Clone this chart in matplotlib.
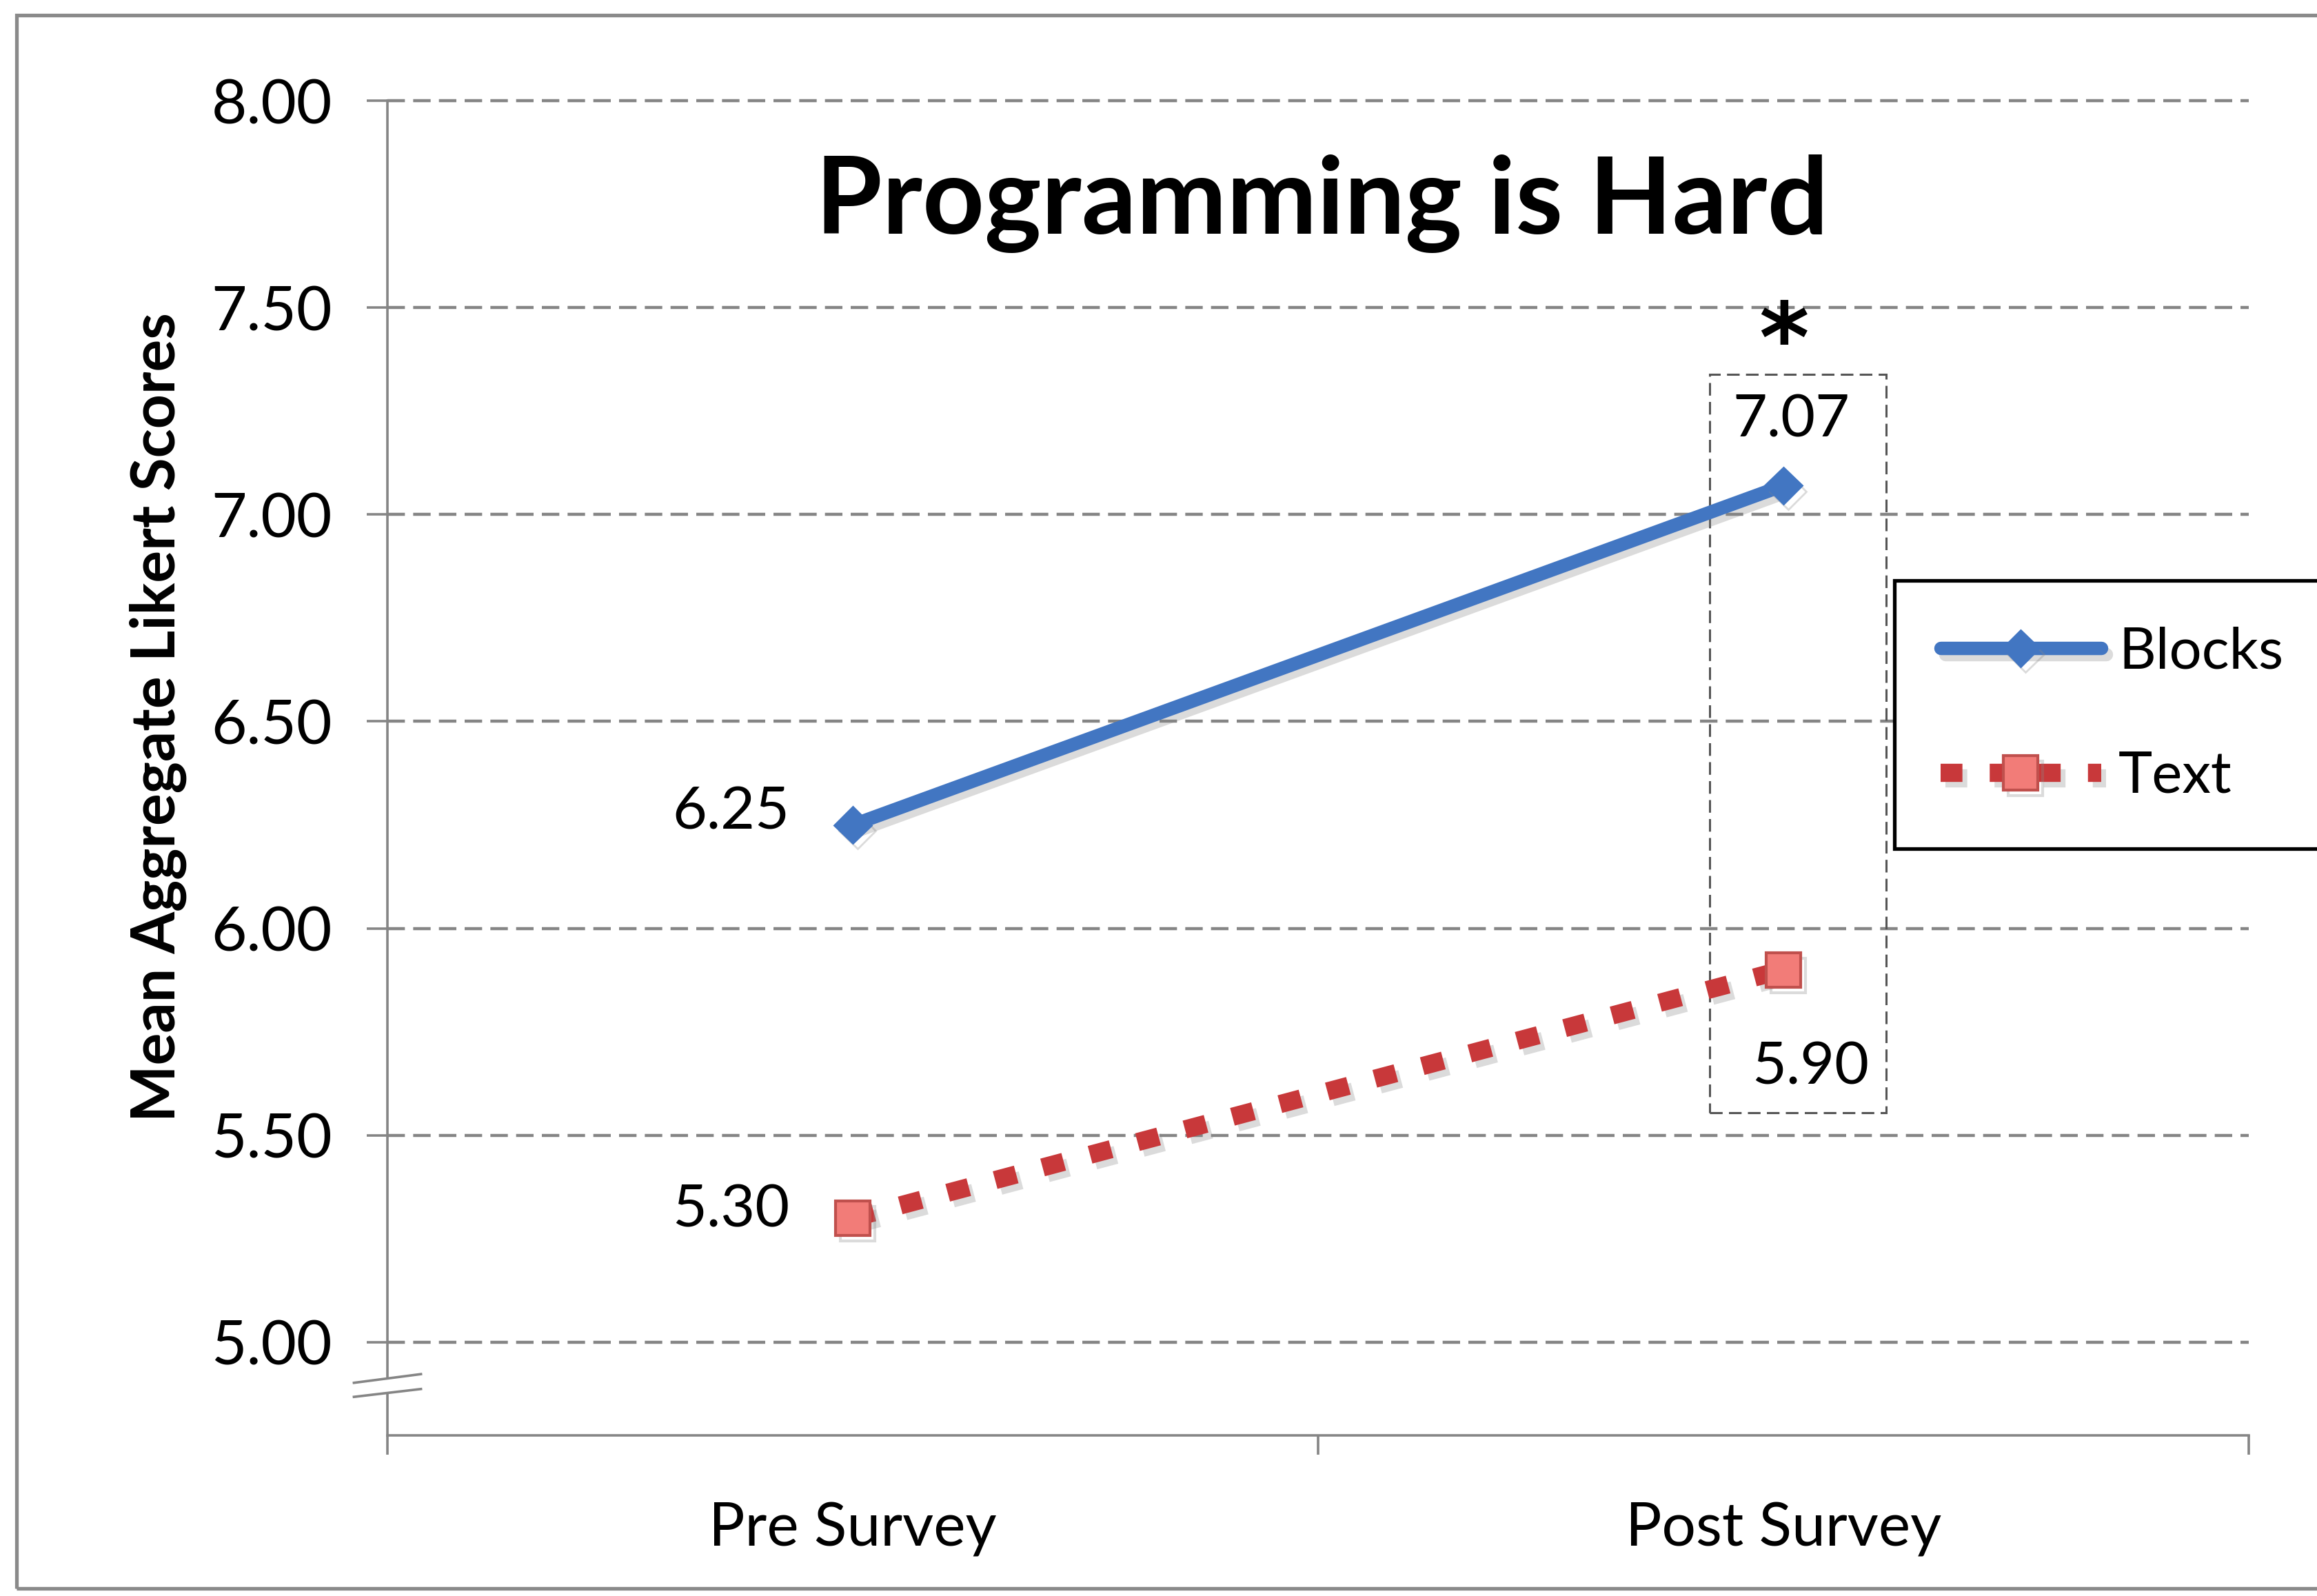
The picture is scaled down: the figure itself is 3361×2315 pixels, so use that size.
import matplotlib
matplotlib.use("Agg")
import matplotlib.pyplot as plt
import matplotlib.patheffects as pe
from matplotlib.patches import Rectangle, Polygon
import matplotlib.transforms as mtransforms

plt.rcParams['font.family'] = ['Lato', 'DejaVu Sans']

# ---- data ----
categories = ['Pre Survey', 'Post Survey']
blocks = [6.25, 7.07]
text_scores = [5.30, 5.90]
series_names = ['Blocks', 'Text']
y_ticks = [5.00, 5.50, 6.00, 6.50, 7.00, 7.50, 8.00]
title = 'Programming is Hard'
ylabel = 'Mean Aggregate Likert Scores'
sig_mark = '*'

W, H = 3361, 2315
DPI = 200
fig = plt.figure(figsize=(W / DPI, H / DPI), dpi=DPI)
fig.patch.set_facecolor('white')

# outer chart border (extends past right edge like the crop)
fig.patches.append(Rectangle((24 / W, 1 - 2304 / H), 1.2, (2304 - 22) / H,
                             transform=fig.transFigure, fill=False,
                             edgecolor='#8a8a8a', linewidth=1.9, zorder=0))

ax = fig.add_axes([562 / W, 1 - 2082 / H, (3262 - 562) / W, (2082 - 146) / H])
ax.set_facecolor('none')

x = list(range(len(categories)))
BLUE = '#4276C2'
RED = '#C8383A'
shadow = [pe.SimpleLineShadow(offset=(2.5, -3), shadow_color='#888888', alpha=0.3), pe.Normal()]

l1, = ax.plot(x, blocks, color=BLUE, lw=7.0, marker='D', markersize=13.5,
              markerfacecolor=BLUE, markeredgecolor=BLUE, solid_capstyle='round',
              label=series_names[0], zorder=5, path_effects=shadow)
l2, = ax.plot(x, text_scores, color=RED, lw=9.5, dashes=(1.2, 1.5),
              dash_capstyle='butt', marker='s', markersize=18,
              markerfacecolor='#F27C78', markeredgecolor='#C0504D', markeredgewidth=1.5,
              label=series_names[1], zorder=5, path_effects=shadow)

ax.set_xlim(-0.5, len(categories) - 0.5)
ax.set_ylim(4.775, 8.0)

GRAY = '#858585'
ax.set_yticks(y_ticks)
ax.set_yticklabels([f'{v:.2f}' for v in y_ticks], fontsize=32)
ax.tick_params(axis='y', direction='out', length=10.8, width=1.3, color=GRAY, pad=18)
ax.grid(axis='y', color=GRAY, linewidth=1.6, linestyle=(0, (5.7, 2.7)))
for gl in ax.get_ygridlines():
    gl.set_clip_on(False)

ax.set_xticks(x)
ax.set_xticklabels(categories, fontsize=31.5)
ax.set_xticks([i - 0.5 for i in range(len(categories) + 1)], minor=True)
ax.tick_params(axis='x', which='major', length=0, pad=35)
ax.tick_params(axis='x', which='minor', direction='out', length=10, width=1.3, color=GRAY)

for s in ['top', 'right']:
    ax.spines[s].set_visible(False)
for s in ['left', 'bottom']:
    ax.spines[s].set_color(GRAY)
    ax.spines[s].set_linewidth(1.3)
ax.spines['left'].set_bounds(4.775, 8.0)

# axis break marks
bt = mtransforms.blended_transform_factory(ax.transAxes, ax.transData)
brk = Polygon([(-0.018, 4.902), (0.018, 4.923), (0.018, 4.887), (-0.018, 4.868)],
              closed=True, transform=bt, facecolor='white', edgecolor='none',
              clip_on=False, zorder=3)
ax.add_patch(brk)
for y0, y1 in [(4.902, 4.923), (4.868, 4.887)]:
    ax.plot([-0.018, 0.018], [y0, y1], transform=bt, color=GRAY, lw=1.3,
            clip_on=False, zorder=4)

# data labels
ax.annotate(f'{blocks[0]:.2f}', (x[0], blocks[0]), xytext=(-33, 6.5),
            textcoords='offset points', ha='right', va='center', fontsize=31)
ax.annotate(f'{text_scores[0]:.2f}', (x[0], text_scores[0]), xytext=(-33, 4),
            textcoords='offset points', ha='right', va='center', fontsize=31)
lab_post = ax.annotate(f'{blocks[1]:.2f}', (x[1], blocks[1]), xytext=(4, 34),
                       textcoords='offset points', ha='center', va='center', fontsize=31)
ax.annotate(f'{text_scores[1]:.2f}', (x[1], text_scores[1]), xytext=(14, -51),
            textcoords='offset points', ha='center', va='center', fontsize=31)

# dashed significance box around post-survey values
bx0, bx1 = x[1] - 0.079, x[1] + 0.11
by0, by1 = text_scores[1] - 0.346, blocks[1] + 0.269
ax.add_patch(Rectangle((bx0, by0), bx1 - bx0, by1 - by0, fill=False,
                       edgecolor='#555555', linewidth=1.1, linestyle=(0, (6, 3)),
                       zorder=4, clip_on=False))
# significance asterisk, stacked just above the post-survey label
ax.annotate(sig_mark, xy=(0.5, 1.0), xycoords=lab_post, xytext=(-4, 1),
            textcoords='offset points', ha='center', va='bottom',
            fontsize=50, fontweight='bold', family=['DejaVu Sans'])

# title and y label
fig.text(1918 / W, 1 - 339 / H, title, ha='center', va='baseline',
         fontsize=56.3, fontweight='bold')
fig.text(229 / W, 1 - 1040 / H, ylabel, ha='center', va='center', rotation=90,
         fontsize=31.5, fontweight='bold')

leg = fig.legend(handles=[l1, l2], loc='upper left',
                 bbox_to_anchor=(2748 / W, 1 - 842 / H), fontsize=30,
                 frameon=True, fancybox=False, edgecolor='black', framealpha=1,
                 handlelength=2.8, handletextpad=0.3, borderpad=0.8,
                 labelspacing=1.25, numpoints=1, borderaxespad=0)
leg.get_frame().set_linewidth(1.9)

fig.savefig('out.png', dpi=DPI)
